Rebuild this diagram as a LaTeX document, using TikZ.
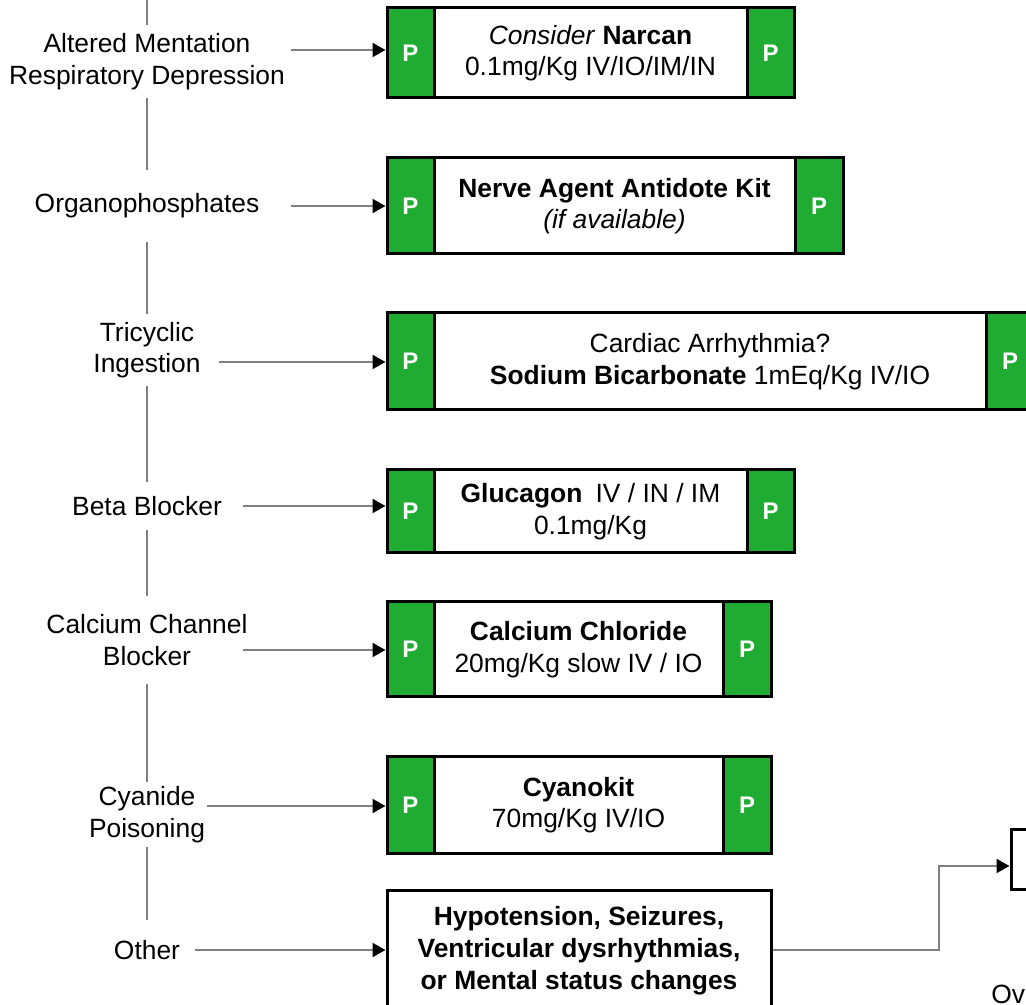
\documentclass[tikz,border=0pt]{standalone}
\usepackage{fontspec}
\setmainfont{Liberation Sans}
\usetikzlibrary{arrows.meta}
\definecolor{pgreen}{RGB}{32,172,50}
\definecolor{conn}{RGB}{128,128,128}

\begin{document}
\begin{tikzpicture}[x=0.75pt,y=-0.75pt,
  font=\fontsize{19.8pt}{23.6pt}\selectfont,
  part/.style={draw=black, line width=2.25pt, inner sep=0pt, align=center},
  pbox/.style={part, fill=pgreen, text=white, minimum width=35.25pt, font=\fontsize{18pt}{20pt}\selectfont\bfseries},
  pboxw/.style={pbox, minimum width=36pt},
  mbox/.style={part, fill=white},
  lbl/.style={align=center, inner sep=0pt, minimum width=10pt},
  trunk/.style={draw=conn, line width=1.5pt},
  arr/.style={draw=conn, line width=1.5pt, -{Triangle[length=9.75pt,width=10.5pt,color=black]}}
]
\clip (0,0) rectangle (1026,1005);

% left column: triggers along the trunk line
\node[lbl, minimum height=54.75pt] (L1) at (147,61.5) {Altered Mentation\\Respiratory Depression};
\node[lbl, minimum height=54pt]    (L2) at (147,206)  {Organophosphates};
\node[lbl, minimum height=54pt]    (L3) at (147,350)  {Tricyclic\\Ingestion};
\node[lbl, minimum height=36pt]    (L4) at (147,506)  {Beta Blocker};
\node[lbl, minimum height=66pt]    (L5) at (147,640)  {Calcium Channel\\Blocker};
\node[lbl, minimum height=48.75pt] (L6) at (147,814.5){Cyanide\\Poisoning};
\node[lbl, minimum height=45pt]    (L7) at (147,950)  {Other};

\coordinate (top) at (147,-5);
\draw[trunk] (top) -- (L1.north);
\draw[trunk] (L1.south) -- (L2.north);
\draw[trunk] (L2.south) -- (L3.north);
\draw[trunk] (L3.south) -- (L4.north);
\draw[trunk] (L4.south) -- (L5.north);
\draw[trunk] (L5.south) -- (L6.north);
\draw[trunk] (L6.south) -- (L7.north);

% treatment boxes: paramedic tab, drug text, paramedic tab
\begin{scope}[every node/.append style={minimum height=67.5pt}]
\node[mbox, minimum width=234.75pt] (m1) at (590.5,53) {\textit{Consider} \textbf{Narcan}\\0.1mg/Kg IV/IO/IM/IN};
\node[pbox] (g1l) at (410.5,53) {P};
\node[pbox] (g1r) at (770.5,53) {P};
\end{scope}

\begin{scope}[every node/.append style={minimum height=72pt}]
\node[mbox, minimum width=270.75pt] (m2) at (614.5,206) {\textbf{Nerve Agent Antidote Kit}\\\textit{(if available)}};
\node[pbox] (g2l) at (410.5,206) {P};
\node[pboxw] (g2r) at (819,206) {P};
\end{scope}

\begin{scope}[every node/.append style={minimum height=72.75pt}]
\node[mbox, minimum width=414pt] (m3) at (710,361.5) {Cardiac Arrhythmia?\\\textbf{Sodium Bicarbonate} 1mEq/Kg IV/IO};
\node[pbox] (g3l) at (410.5,361.5) {P};
\node[pboxw] (g3r) at (1010,361.5) {P};
\end{scope}

\begin{scope}[every node/.append style={minimum height=62.25pt}]
\node[mbox, minimum width=234.75pt] (m4) at (590.5,511.5) {\textbf{Glucagon}\enspace IV / IN / IM\\0.1mg/Kg};
\node[pbox] (g4l) at (410.5,511.5) {P};
\node[pbox] (g4r) at (770.5,511.5) {P};
\end{scope}

\begin{scope}[every node/.append style={minimum height=71.25pt}]
\node[mbox, minimum width=216.75pt] (m5) at (578.5,649.5) {\textbf{Calcium Chloride}\\20mg/Kg slow IV / IO};
\node[pbox] (g5l) at (410.5,649.5) {P};
\node[pboxw] (g5r) at (747,649.5) {P};
\end{scope}

\begin{scope}[every node/.append style={minimum height=72pt}]
\node[mbox, minimum width=216.75pt] (m6) at (578.5,805) {\textbf{Cyanokit}\\70mg/Kg IV/IO};
\node[pbox] (g6l) at (410.5,805) {P};
\node[pboxw] (g6r) at (747,805) {P};
\end{scope}

\node[mbox, minimum width=288pt, minimum height=91.5pt,
      font=\fontsize{19.8pt}{24pt}\selectfont\bfseries] (h) at (579,951)
  {Hypotension, Seizures,\\Ventricular dysrhythmias,\\or Mental status changes};

\node[mbox, minimum width=74.25pt, minimum height=45pt] (rb) at (1060.5,859) {};
\node[anchor=base west, inner sep=0pt] (ov) at (991,1003) {Ov};

% connectors from the triggers to the boxes
\coordinate (a1) at (291,50);
\coordinate (a2) at (291,206);
\coordinate (a3) at (219,362);
\coordinate (a4) at (243,506);
\coordinate (a5) at (243,650);
\coordinate (a6) at (207,806);
\coordinate (a7) at (195,950);
\draw[arr] (a1) -- (a1 -| g1l.west);
\draw[arr] (a2) -- (a2 -| g2l.west);
\draw[arr] (a3) -- (a3 -| g3l.west);
\draw[arr] (a4) -- (a4 -| g4l.west);
\draw[arr] (a5) -- (a5 -| g5l.west);
\draw[arr] (a6) -- (a6 -| g6l.west);
\draw[arr] (a7) -- (a7 -| h.west);

% onward connector
\coordinate (b1) at (939,950);
\coordinate (b2) at (939,866);
\draw[arr] (b1 -| h.east) -- (b1) -- (b2) -- (b2 -| rb.west);
\end{tikzpicture}
\end{document}
